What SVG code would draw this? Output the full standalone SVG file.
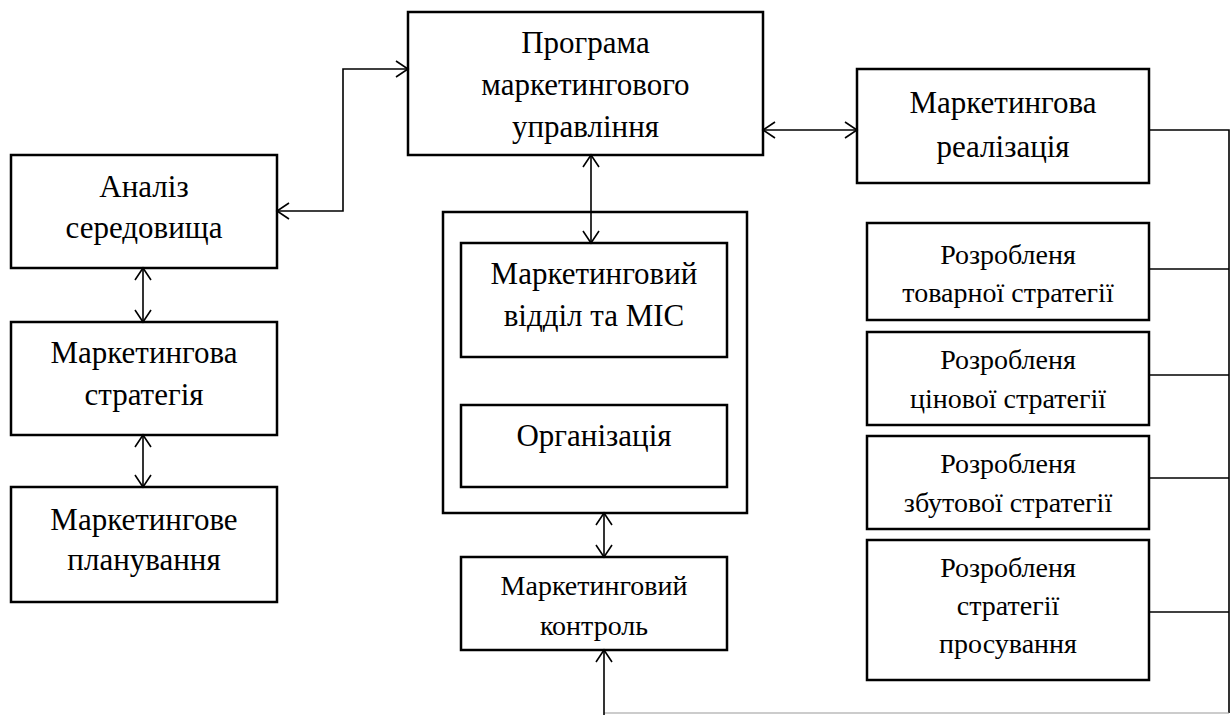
<svg xmlns="http://www.w3.org/2000/svg" width="1232" height="715" viewBox="0 0 1232 715">
  <rect x="0" y="0" width="1232" height="715" fill="#fff"/>

  <g id="connectors" fill="none" stroke="#000" stroke-width="1.6">
    <path d="M277,211 H343 V69 H408"/>
    <path d="M396,61 L408,69 L396,77"/>
    <path d="M289,203 L277,211 L289,219"/>
    <path d="M763,130 H857"/>
    <path d="M775,122 L763,130 L775,138"/>
    <path d="M845,122 L857,130 L845,138"/>
    <path d="M591,155 V243"/>
    <path d="M583,167 L591,155 L599,167"/>
    <path d="M583,231 L591,243 L599,231"/>
    <path d="M143,268 V322"/>
    <path d="M135,280 L143,268 L151,280"/>
    <path d="M135,310 L143,322 L151,310"/>
    <path d="M143,435 V487"/>
    <path d="M135,447 L143,435 L151,447"/>
    <path d="M135,475 L143,487 L151,475"/>
    <path d="M604,513 V557"/>
    <path d="M596,525 L604,513 L612,525"/>
    <path d="M596,545 L604,557 L612,545"/>
    <path d="M1149,130 H1229 V713"/>
    <path d="M1229,713 H604" stroke="#9a9a9a" stroke-width="1.2"/>
    <path d="M604,715 V650"/>
    <path d="M596,662 L604,650 L612,662"/>
    <path d="M1149,269 H1229"/>
    <path d="M1149,375 H1229"/>
    <path d="M1149,478 H1229"/>
    <path d="M1149,612 H1229"/>
  </g>

  <g id="program">
    <rect x="408" y="12" width="355" height="143" fill="none" stroke="#000" stroke-width="2.5"/>
    <text font-family="Liberation Serif" font-size="31" text-anchor="middle" x="585.5" y="53">Програма</text>
    <text font-family="Liberation Serif" font-size="31" text-anchor="middle" x="585.5" y="95">маркетингового</text>
    <text font-family="Liberation Serif" font-size="31" text-anchor="middle" x="585.5" y="137">управління</text>
  </g>
  <g id="analysis">
    <rect x="11" y="155" width="266" height="113" fill="none" stroke="#000" stroke-width="2.5"/>
    <text font-family="Liberation Serif" font-size="31" text-anchor="middle" x="144" y="197">Аналіз</text>
    <text font-family="Liberation Serif" font-size="31" text-anchor="middle" x="144" y="238">середовища</text>
  </g>
  <g id="strategy">
    <rect x="11" y="322" width="266" height="113" fill="none" stroke="#000" stroke-width="2.5"/>
    <text font-family="Liberation Serif" font-size="31" text-anchor="middle" x="144" y="363">Маркетингова</text>
    <text font-family="Liberation Serif" font-size="31" text-anchor="middle" x="144" y="405">стратегія</text>
  </g>
  <g id="planning">
    <rect x="11" y="487" width="266" height="115" fill="none" stroke="#000" stroke-width="2.5"/>
    <text font-family="Liberation Serif" font-size="31" text-anchor="middle" x="144" y="530">Маркетингове</text>
    <text font-family="Liberation Serif" font-size="31" text-anchor="middle" x="144" y="570">планування</text>
  </g>
  <g id="container">
    <rect x="443" y="212" width="304" height="301" fill="none" stroke="#000" stroke-width="2.5"/>
  </g>
  <g id="mic">
    <rect x="461" y="243" width="266" height="114" fill="none" stroke="#000" stroke-width="2.5"/>
    <text font-family="Liberation Serif" font-size="31" text-anchor="middle" x="594" y="284">Маркетинговий</text>
    <text font-family="Liberation Serif" font-size="31" text-anchor="middle" x="594" y="326">відділ та МІС</text>
  </g>
  <g id="organization">
    <rect x="461" y="405" width="266" height="82" fill="none" stroke="#000" stroke-width="2.5"/>
    <text font-family="Liberation Serif" font-size="31" text-anchor="middle" x="594" y="446">Організація</text>
  </g>
  <g id="control">
    <rect x="461" y="557" width="266" height="93" fill="none" stroke="#000" stroke-width="2.5"/>
    <text font-family="Liberation Serif" font-size="28" text-anchor="middle" x="594" y="595">Маркетинговий</text>
    <text font-family="Liberation Serif" font-size="28" text-anchor="middle" x="594" y="635">контроль</text>
  </g>
  <g id="realization">
    <rect x="857" y="69" width="292" height="114" fill="none" stroke="#000" stroke-width="2.5"/>
    <text font-family="Liberation Serif" font-size="31" text-anchor="middle" x="1003" y="113">Маркетингова</text>
    <text font-family="Liberation Serif" font-size="31" text-anchor="middle" x="1003" y="157">реалізація</text>
  </g>
  <g id="product">
    <rect x="867" y="223" width="282" height="97" fill="none" stroke="#000" stroke-width="2.5"/>
    <text font-family="Liberation Serif" font-size="28" text-anchor="middle" x="1008" y="264">Розробленя</text>
    <text font-family="Liberation Serif" font-size="28" text-anchor="middle" x="1008" y="302">товарної стратегії</text>
  </g>
  <g id="price">
    <rect x="867" y="332" width="282" height="93" fill="none" stroke="#000" stroke-width="2.5"/>
    <text font-family="Liberation Serif" font-size="28" text-anchor="middle" x="1008" y="369">Розробленя</text>
    <text font-family="Liberation Serif" font-size="28" text-anchor="middle" x="1008" y="408">цінової стратегії</text>
  </g>
  <g id="distribution">
    <rect x="867" y="436" width="282" height="93" fill="none" stroke="#000" stroke-width="2.5"/>
    <text font-family="Liberation Serif" font-size="28" text-anchor="middle" x="1008" y="473">Розробленя</text>
    <text font-family="Liberation Serif" font-size="28" text-anchor="middle" x="1008" y="512">збутової стратегії</text>
  </g>
  <g id="promotion">
    <rect x="867" y="540" width="282" height="140" fill="none" stroke="#000" stroke-width="2.5"/>
    <text font-family="Liberation Serif" font-size="28" text-anchor="middle" x="1008" y="577">Розробленя</text>
    <text font-family="Liberation Serif" font-size="28" text-anchor="middle" x="1008" y="615">стратегії</text>
    <text font-family="Liberation Serif" font-size="28" text-anchor="middle" x="1008" y="653">просування</text>
  </g>
</svg>
